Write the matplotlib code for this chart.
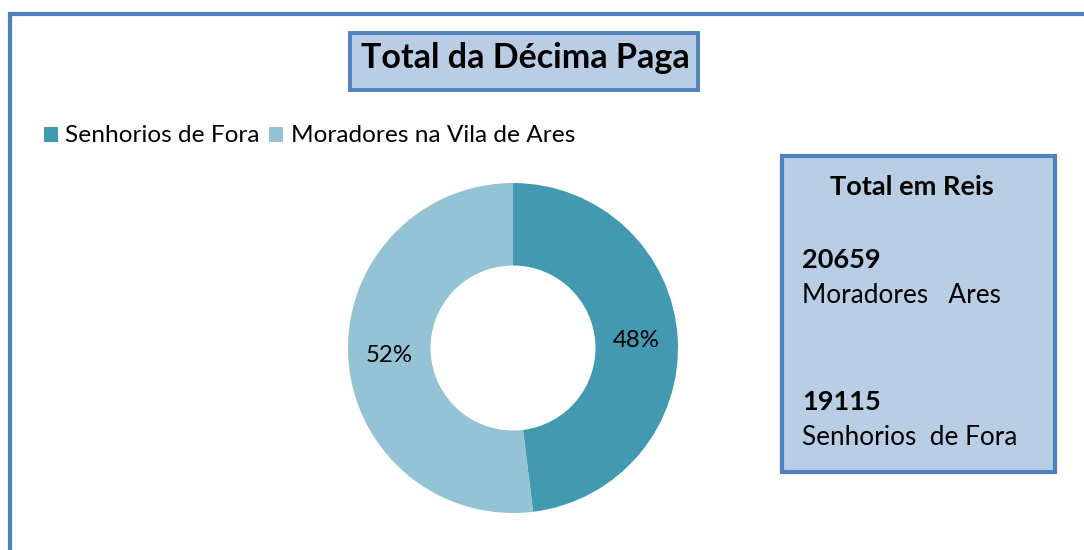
import matplotlib.pyplot as plt
from matplotlib.patches import Rectangle

categorias = ["Senhorios de Fora", "Moradores na Vila de Ares"]
valores = [19115, 20659]
cores = ["#4399B0", "#93C3D4"]
titulo = "Total da Décima Paga"

W, H = 1084, 550
plt.rcParams['font.family'] = ['Lato', 'DejaVu Sans']

fig = plt.figure(figsize=(W / 100, H / 100), dpi=100)


def fx(x):
    return x / W


def fy(y):
    return 1 - y / H


def caixa(x0, y0, x1, y1, fill, lw):
    r = Rectangle((fx(x0), fy(y1)), fx(x1) - fx(x0), fy(y0) - fy(y1),
                  transform=fig.transFigure, facecolor=fill,
                  edgecolor="#4F81BD", linewidth=lw)
    fig.add_artist(r)


# moldura do grafico (cortada a direita e em baixo)
caixa(10, 14, 1200, 700, "none", 3)

# titulo
caixa(350, 33, 698, 90, "#B9CDE5", 2.8)
fig.text(fx(525), fy(68), titulo, ha="center", va="baseline",
         fontsize=24.5, fontweight="bold")

# legenda
lx = [44, 269]
tx = [65, 291]
for i in range(2):
    fig.add_artist(Rectangle((fx(lx[i]), fy(142)), fx(14), 15 / H,
                             transform=fig.transFigure, facecolor=cores[i],
                             edgecolor="none"))
    fig.text(fx(tx[i]), fy(142), categorias[i], ha="left", va="baseline",
             fontsize=17.6)

# donut
cx, cy, r = 513, 348, 165
ax = fig.add_axes([fx(cx - r), fy(cy + r), fx(2 * r), 2 * r / H])
wedges, textos, pcts = ax.pie(valores, colors=cores, startangle=90,
                              counterclock=False, autopct="%1.0f%%",
                              pctdistance=0.75,
                              wedgeprops=dict(width=0.5, edgecolor="none"))
for t in pcts:
    t.set_fontsize(17.3)
    t.set_color("black")
ax.set_xlim(-1, 1)
ax.set_ylim(-1, 1)
ax.set_aspect("equal")

# caixa com totais
caixa(782, 156, 1055, 472, "#B9CDE5", 3)
fig.text(fx(830), fy(195), "Total em Reis", ha="left", va="baseline",
         fontsize=19.5, fontweight="bold")
fig.text(fx(802), fy(268), str(valores[1]), ha="left", va="baseline",
         fontsize=19.5, fontweight="bold")
fig.text(fx(802), fy(303), "Moradores   Ares", ha="left", va="baseline",
         fontsize=18.8)
fig.text(fx(802), fy(410), str(valores[0]), ha="left", va="baseline",
         fontsize=19.5, fontweight="bold")
fig.text(fx(802), fy(445), "Senhorios  de Fora", ha="left", va="baseline",
         fontsize=18.8)

fig.savefig("out.png", dpi=100)
